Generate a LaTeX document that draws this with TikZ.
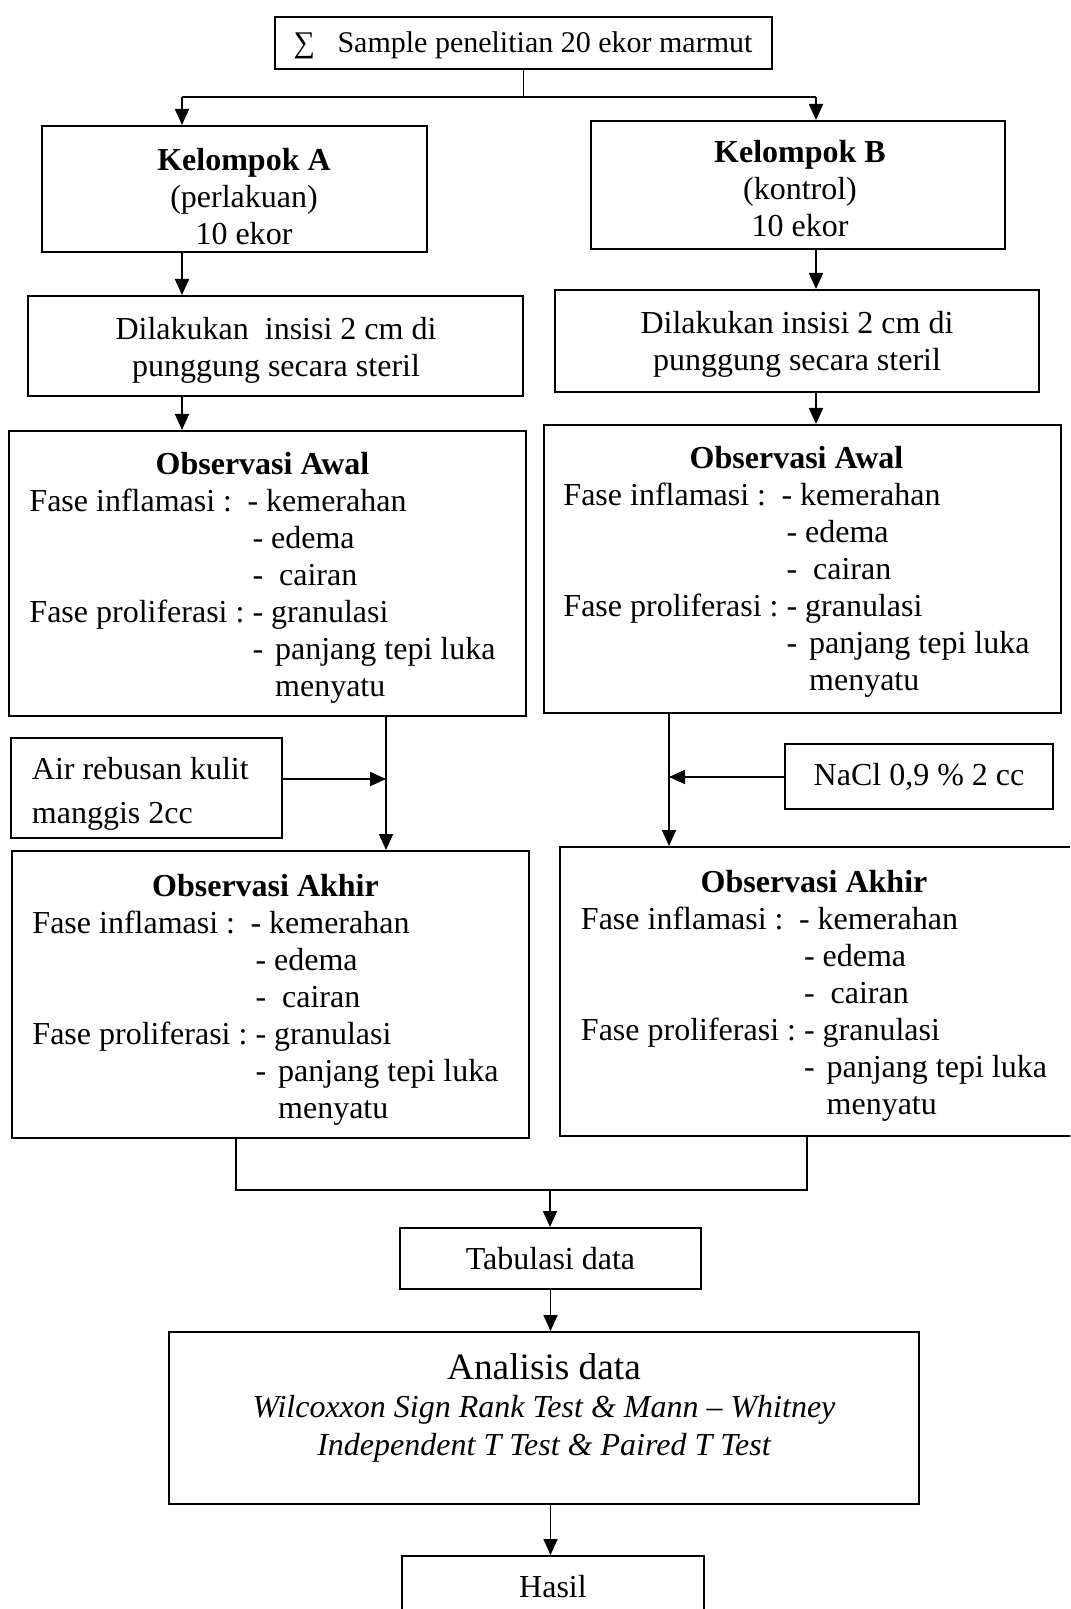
\documentclass[tikz,border=0pt]{standalone}
\usepackage{fontspec}
\setmainfont{Liberation Serif}
\usetikzlibrary{arrows.meta}
\tikzset{
  box/.style={draw, line width=1pt, inner sep=0pt, align=center,
    font=\fontsize{16}{18.5}\selectfont},
  frame/.style={draw, line width=1pt, inner sep=0pt},
  txt/.style={inner sep=0pt, align=center, font=\fontsize{16}{18.5}\selectfont},
  obstxt/.style={inner sep=0pt, font=\fontsize{16}{18.5}\selectfont},
  arr/.style={-{Triangle[length=8pt,width=7pt]}, line width=0.9pt},
  ln/.style={line width=0.9pt},
}
\newcommand{\obstext}[1]{%
\begin{tabular}{@{}l@{}l@{}}
\multicolumn{2}{c}{\textbf{#1}}\\
Fase inflamasi : & \hspace{1.5pt}- kemerahan\\
 & \ - edema\\
 & \ -\hspace{8pt}cairan\\
Fase proliferasi : & \ - granulasi\\
 & \ -\hspace{6pt}panjang tepi luka\\
 & \ \phantom{-}\hspace{6pt}menyatu
\end{tabular}}
\begin{document}
\begin{tikzpicture}[x=0.5pt, y=-0.5pt]
\useasboundingbox (0,0) rectangle (1070,1609);
\clip (0,0) rectangle (1070,1609);

% boxes
\node[frame, minimum width=248.5pt, minimum height=26pt] (top) at (523.5,43) {};
\node[txt, font=\fontsize{15}{18}\selectfont] (topt) at (523,45)
  {∑\ \ \ Sample penelitian 20 ekor marmut};

\node[frame, minimum width=192.5pt, minimum height=63pt] (KA) at (234.5,189) {};
\node[txt] (KAt) at (244,197) {\textbf{Kelompok A}\\(perlakuan)\\10 ekor};
\node[frame, minimum width=207pt, minimum height=64pt] (KB) at (798,185) {};
\node[txt] (KBt) at (800,189) {\textbf{Kelompok B}\\(kontrol)\\10 ekor};

\node[frame, minimum width=247.5pt, minimum height=50pt] (DA) at (275.5,346) {};
\node[txt] (DAt) at (276,350) {Dilakukan \ insisi 2 cm di\\punggung secara steril};
\node[frame, minimum width=242pt, minimum height=51pt] (DB) at (797,341) {};
\node[txt] (DBt) at (797,344) {Dilakukan insisi 2 cm di\\punggung secara steril};

\node[frame, minimum width=258.5pt, minimum height=142.5pt] (OAA) at (267.5,573.5) {};
\node[obstxt] (OAAt) at (262.5,578) {\obstext{Observasi Awal}};
\node[frame, minimum width=258.5pt, minimum height=144pt] (OAB) at (802.5,569) {};
\node[obstxt] (OABt) at (796.5,572) {\obstext{Observasi Awal}};

\node[frame, minimum width=135.5pt, minimum height=50pt] (air) at (146.5,788) {};
\node[txt, anchor=west, align=left, font=\fontsize{16}{22}\selectfont] (airt)
  at (31.5,794) {Air rebusan kulit\\manggis 2cc};
\node[box, minimum width=134pt, minimum height=32.5pt] (nacl) at (919,776.5)
  {NaCl 0,9 \% 2 cc};

\node[frame, minimum width=258.5pt, minimum height=143.5pt] (OKA) at (270.5,994.5) {};
\node[obstxt] (OKAt) at (265.5,1000) {\obstext{Observasi Akhir}};
\node[frame, minimum width=258pt, minimum height=144.5pt] (OKB) at (818,991.5) {};
\node[obstxt] (OKBt) at (814,996) {\obstext{Observasi Akhir}};

\node[box, minimum width=150.5pt, minimum height=30.5pt] (tab) at (550.5,1258.5)
  {Tabulasi data};

\node[frame, minimum width=375pt, minimum height=86pt] (ana) at (544,1418) {};
\node[txt, font=\fontsize{16}{19}\selectfont] (anatext) at (544,1408)
  {{\fontsize{18.67}{19}\selectfont Analisis data}\\
   \itshape Wilcoxxon Sign Rank Test \& Mann – Whitney\\
   \itshape Independent T Test \& Paired T Test};

\node[frame, minimum width=151pt, minimum height=42pt] (has) at (553,1598) {};
\node[txt] (hastext) at (553,1587) {Hasil};

% connectors
\coordinate (jA) at (182,97);
\coordinate (jB) at (816,97);
\draw[ln] (top.south) -- (top.south |- jA);
\draw[ln] (jA) -- (jB);
\draw[arr] (jA) -- (jA |- KA.north);
\draw[arr] (jB) -- (jB |- KB.north);

\draw[arr] (jA |- KA.south) -- (jA |- DA.north);
\draw[arr] (jB |- KB.south) -- (jB |- DB.north);
\draw[arr] (jA |- DA.south) -- (jA |- OAA.north);
\draw[arr] (jB |- DB.south) -- (jB |- OAB.north);

\coordinate (cA) at (386,779);
\coordinate (cB) at (669,777);
\draw[arr] (cA |- OAA.south) -- (cA |- OKA.north);
\draw[arr] (air.east |- cA) -- (cA);
\draw[arr] (cB |- OAB.south) -- (cB |- OKB.north);
\draw[arr] (nacl.west |- cB) -- (cB);

\coordinate (mA) at (236,1190);
\coordinate (mB) at (807,1190);
\coordinate (mC) at (550,1190);
\draw[ln] (mA |- OKA.south) -- (mA) -- (mB) -- (mB |- OKB.south);
\draw[arr] (mC) -- (mC |- tab.north);
\draw[arr] (tab.south) -- (tab.south |- ana.north);
\draw[arr] (tab.south |- ana.south) -- (tab.south |- has.north);
\end{tikzpicture}
\end{document}
